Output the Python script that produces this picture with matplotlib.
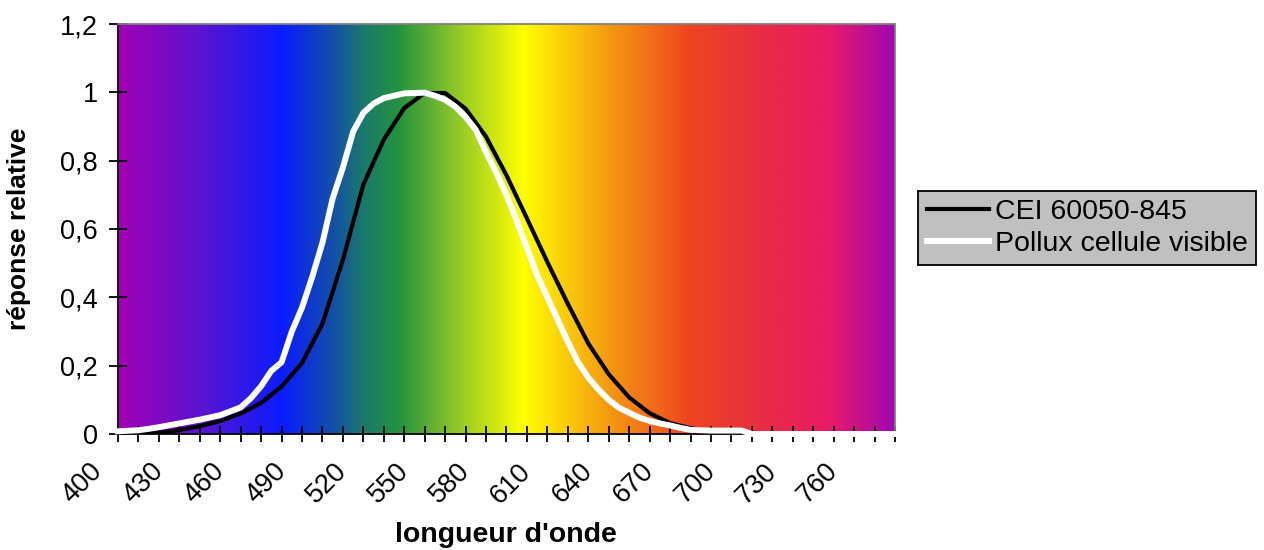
import numpy as np
import matplotlib
matplotlib.use("Agg")
import matplotlib.pyplot as plt
from matplotlib.colors import LinearSegmentedColormap
from matplotlib.transforms import ScaledTranslation
from matplotlib.lines import Line2D

plt.rcParams['font.family'] = ['Liberation Sans', 'DejaVu Sans']

# ---- data ----
wl_cei = list(range(400, 781, 10))
cei = [0.0004, 0.0012, 0.004, 0.0116, 0.023, 0.038, 0.06, 0.091, 0.139, 0.208,
       0.323, 0.51, 0.73, 0.862, 0.954, 0.998, 0.998, 0.952, 0.87, 0.757,
       0.631, 0.503, 0.381, 0.265, 0.175, 0.107, 0.061, 0.032, 0.017, 0.008,
       0.004, 0.002, 0.001, 0, 0, 0, 0, 0, 0]

wl_pollux = [400, 410, 415, 420, 430, 440, 450, 460, 465, 470, 475, 480, 485, 490,
             495, 500, 505, 510, 515, 520, 525, 530, 540, 550, 555, 560, 565, 570,
             575, 580, 585, 590, 595, 600, 605, 610, 615, 620, 625, 630, 635, 640,
             645, 650, 655, 660, 665, 670, 675, 680, 690, 700, 705, 710, 720, 730,
             740, 750, 760, 770, 780]
pollux = [0.008, 0.011, 0.015, 0.02, 0.031, 0.042, 0.055, 0.078, 0.105, 0.14,
          0.185, 0.21, 0.30, 0.37, 0.46, 0.56, 0.69, 0.78, 0.885, 0.94, 0.967,
          0.983, 0.997, 0.999, 0.99, 0.978, 0.958, 0.928, 0.89, 0.825, 0.765,
          0.70, 0.625, 0.545, 0.465, 0.40, 0.335, 0.27, 0.21, 0.165, 0.13, 0.10,
          0.077, 0.062, 0.048, 0.038, 0.031, 0.025, 0.018, 0.012, 0.01, 0.01,
          0.01, 0.0, 0, 0, 0, 0, 0, 0, 0]

series_names = ["CEI 60050-845", "Pollux cellule visible"]
y_ticks = [0, 0.2, 0.4, 0.6, 0.8, 1.0, 1.2]
y_ticklabels = ["0", "0,2", "0,4", "0,6", "0,8", "1", "1,2"]
x_label_ticks = list(range(400, 761, 30))
x_minor_ticks = list(range(400, 781, 10))

# spectrum background stops (wavelength, colour)
spec_wl = [400, 440, 480, 505, 520, 537, 565, 598, 640, 680, 720, 750, 780]
spec_col = ['#a200b4', '#5a14d0', '#0a1cff', '#1450a8', '#1a7a6a', '#24923e',
            '#8ec628', '#ffff00', '#f59a10', '#ee4520', '#e82a48', '#e81a6a',
            '#a008b0']

# ---- figure ----
fig = plt.figure(figsize=(12.64, 5.5), dpi=100)
ax = fig.add_axes([118/1264, 1-434/550, (895-118)/1264, (434-24)/550])

pos = [(w - spec_wl[0]) / (spec_wl[-1] - spec_wl[0]) for w in spec_wl]
cmap = LinearSegmentedColormap.from_list('spec', list(zip(pos, spec_col)))
grad = np.linspace(0, 1, 800).reshape(1, -1)
ax.imshow(grad, extent=[400, 780, 0, 1.2], aspect='auto', cmap=cmap,
          zorder=0, interpolation='bilinear')

ax.plot(wl_cei, cei, color='black', lw=3.0, zorder=3, solid_joinstyle='round')
ax.plot(wl_pollux, pollux, color='white', lw=4.3, zorder=4, clip_on=False,
        solid_joinstyle='round')

ax.set_xlim(400, 780)
ax.set_ylim(0, 1.2)

ax.set_yticks(y_ticks)
ax.set_yticklabels(y_ticklabels, fontsize=19.5)
ax.tick_params(axis='y', direction='inout', length=13, width=1.3, pad=8)

ax.set_xticks(x_minor_ticks)
ax.set_xticklabels([str(w) if w in x_label_ticks else '' for w in x_minor_ticks],
                   fontsize=19.5, rotation=45, ha='right', va='top')
ax.tick_params(axis='x', direction='inout', length=11, width=1.3, pad=12)
off = ScaledTranslation(-11/100, 0, fig.dpi_scale_trans)
for lab in ax.get_xticklabels():
    lab.set_transform(lab.get_transform() + off)

for s in ['left', 'bottom']:
    ax.spines[s].set_color('black')
    ax.spines[s].set_linewidth(1.3)
for s in ['top', 'right']:
    ax.spines[s].set_color('#808080')
    ax.spines[s].set_linewidth(1.3)

fig.text(19/1264, 1-229/550, 'réponse relative', rotation=90, ha='center',
         va='center', fontsize=19, fontweight='bold')
fig.text(506/1264, 1-535/550, "longueur d'onde", ha='center', va='center',
         fontsize=20.5, fontweight='bold')

handles = [Line2D([], [], color='black', lw=3.0),
           Line2D([], [], color='white', lw=4.3)]
leg = fig.legend(handles, series_names, loc='center left',
                 bbox_to_anchor=(918/1264, 1-228/550), fontsize=20.5,
                 frameon=True, fancybox=False, framealpha=1,
                 facecolor='#c0c0c0', edgecolor='black', borderpad=0.3,
                 handlelength=2.2, handletextpad=0.2, labelspacing=0.2,
                 borderaxespad=0)
leg.get_frame().set_linewidth(1.3)

fig.savefig('out.png', dpi=100)
